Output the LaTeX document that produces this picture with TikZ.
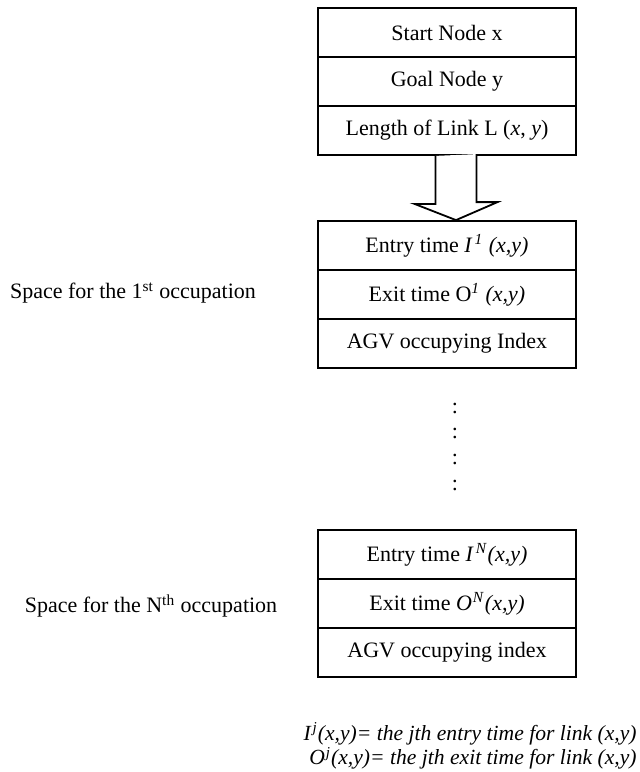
\documentclass[tikz,border=0pt]{standalone}
\usepackage{fontspec}
\setmainfont{Liberation Serif}
\begin{document}
\begin{tikzpicture}[x=0.5pt,y=-0.5pt,
  cell/.style={draw, line width=0.9pt, minimum width=129pt, minimum height=24.5pt, inner sep=0pt, font=\fontsize{11}{13}\selectfont},
  lbl/.style={inner sep=0pt, font=\fontsize{11}{13}\selectfont},
  legend/.style={inner sep=0pt, anchor=east, align=right, font=\fontsize{10.8}{9.8}\selectfont\itshape},
  dotsym/.style={inner sep=0pt, font=\fontsize{11}{13}\selectfont},
  blockarrow/.style={line width=0.9pt, fill=white}]
\useasboundingbox (0,0) rectangle (639,772);
% first box
\node[cell] (S) at (447,32.5) {Start Node x};
\node[cell] (G) at (447,81.5) {Goal Node y};
\node[cell] (L) at (447,130.5) {Length of Link L (\textit{x}, \textit{y})};
% second box
\node[cell] (E1) at (447,245.5) {Entry time \textit{I}\kern1pt\textsuperscript{\textit{1}} \textit{(x,y)}};
\node[cell] (X1) at (447,294.5) {Exit time O\textsuperscript{\textit{1}} \textit{(x,y)}};
\node[cell] (A1) at (447,343.5) {AGV occupying Index};
% block arrow
\coordinate (base) at ([xshift=4.5pt]L.south);
\coordinate (tip) at ([xshift=4.5pt]E1.north);
\draw[blockarrow] (base) ++(-20.5,0) -- ++(0,48) -- ++(-21,0) -- (tip) -- ++(41.5,-18) -- ++(-21,0) -- ++(0,-48);
% dots
\node[dotsym] (d1) at (455,408) {:};
\node[dotsym] (d2) at (455,433) {:};
\node[dotsym] (d3) at (455,459) {:};
\node[dotsym] (d4) at (455,485.5) {:};
% third box
\node[cell] (EN) at (447,554.5) {Entry time \textit{I}\kern1pt\textsuperscript{\textit{N}}\textit{(x,y)}};
\node[cell] (XN) at (447,603.5) {Exit time \textit{O}\kern0.5pt\textsuperscript{\textit{N}}\textit{(x,y)}};
\node[cell] (AN) at (447,652.5) {AGV occupying index};
% side labels
\node[lbl] (sp1) at (133,293) {Space for the 1\textsuperscript{st} occupation};
\node[lbl] (spN) at (151,606) {Space for the N\textsuperscript{th} occupation};
% legend
\node[legend] (leg) at (637,746) {I\kern1pt\textsuperscript{j}(x,y)= the jth entry time for link (x,y)\\
O\kern0.5pt\textsuperscript{j}(x,y)= the jth exit time for link (x,y)};
\end{tikzpicture}
\end{document}
